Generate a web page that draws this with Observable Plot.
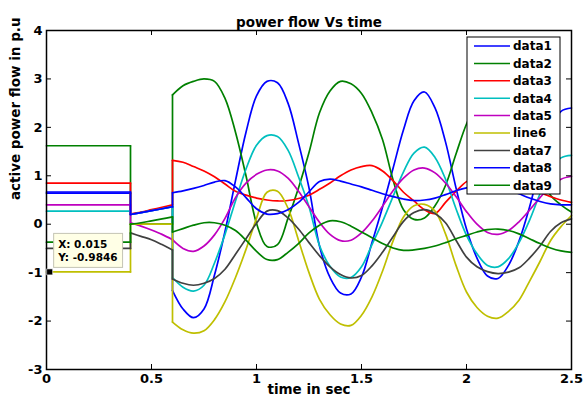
<!DOCTYPE html>
<html><head><meta charset="utf-8">
<script src="https://cdn.jsdelivr.net/npm/d3@7"></script>
<script src="https://cdn.jsdelivr.net/npm/@observablehq/plot@0.6"></script>
<style>
body{margin:0;background:#fff;}
#chart svg{display:block;}
</style></head><body><div id="chart"></div>
<script>
// ---- data ----
const titleText = "power flow Vs time";
const xLabel = "time in sec";
const yLabel = "active power flow in p.u";
const xTicks = [0, 0.5, 1, 1.5, 2, 2.5];
const yTicks = [-3, -2, -1, 0, 1, 2, 3, 4];

const seriesNames = ["data1","data2","data3","data4","data5","line6","data7","data8","data9"];
const seriesColors = ["#0000ff","#008000","#ff0000","#00bfbf","#bf00bf","#bfbf00","#404040","#0000ff","#008000"];

const preTime = [0, 0.4];
const faultTime = [0.4, 0.45, 0.5, 0.55, 0.6];
const postTime = [0.6,0.65,0.7,0.75,0.8,0.85,0.9,0.95,1.0,1.05,1.1,1.15,1.2,1.25,1.3,1.35,1.4,1.45,1.5,1.55,1.6,1.65,1.7,1.75,1.8,1.85,1.9,1.95,2.0,2.05,2.1,2.15,2.2,2.25,2.3,2.35,2.4,2.45,2.5];

const preValues = [0.64, 1.62, 0.85, 0.27, 0.4, -0.9846, -0.5, 0.665, -0.37];

const data1Fault = [0.2,0.24,0.28,0.32,0.36];
const data2Fault = [0,0,0,0,0];
const data3Fault = [0.21,0.25,0.3,0.35,0.4];
const data4Fault = [0.2,0.24,0.28,0.32,0.36];
const data5Fault = [0.03,-0.04,-0.12,-0.21,-0.32];
const line6Fault = [0,0,0,0,0];
const data7Fault = [-0.18,-0.25,-0.32,-0.42,-0.53];
const data8Fault = [0.2,0.24,0.28,0.32,0.36];
const data9Fault = [0,0.03,0.07,0.11,0.15];

const data1Post = [-1.37,-1.75,-1.93,-1.75,-1.05,-0.15,0.9,1.9,2.65,2.95,2.92,2.5,1.68,0.75,-0.45,-1.1,-1.42,-1.44,-1.09,-0.38,0.35,1.15,1.95,2.55,2.73,2.4,1.7,0.75,-0.1,-0.7,-1.07,-1.12,-0.85,-0.35,0.35,1.2,1.95,2.33,2.4];
const data2Post = [2.67,2.86,2.95,3.0,2.95,2.6,1.9,1.0,0.02,-0.46,-0.42,0.12,0.75,1.48,2.3,2.75,2.95,2.9,2.7,2.3,1.75,0.92,0.3,0.1,0.13,0.38,0.8,1.45,2.07,2.5,2.72,2.72,2.5,2.05,1.5,1.0,0.6,0.4,0.25];
const data3Post = [1.32,1.28,1.19,1.1,0.98,0.83,0.68,0.6,0.54,0.5,0.48,0.49,0.53,0.6,0.72,0.85,1.0,1.12,1.19,1.21,1.1,0.9,0.66,0.48,0.3,0.22,0.45,0.68,0.88,0.97,1.0,0.98,0.92,0.83,0.73,0.65,0.57,0.5,0.45];
const data4Post = [-1.1,-1.3,-1.38,-1.26,-0.8,-0.21,0.48,1.14,1.63,1.83,1.81,1.53,0.98,0.36,-0.44,-0.87,-1.09,-1.1,-0.88,-0.42,0.05,0.57,1.08,1.47,1.59,1.38,0.93,0.32,-0.23,-0.61,-0.85,-0.88,-0.71,-0.38,0.08,0.63,1.13,1.37,1.42];
const data5Post = [-0.32,-0.5,-0.56,-0.45,-0.22,0.12,0.55,0.85,1.03,1.12,1.1,0.95,0.68,0.36,0.04,-0.21,-0.34,-0.33,-0.18,0.065,0.37,0.69,0.95,1.12,1.16,1.06,0.85,0.57,0.26,0.0,-0.17,-0.21,-0.13,0.05,0.29,0.55,0.78,0.93,0.99];
const line6Post = [-2.02,-2.18,-2.25,-2.2,-1.97,-1.6,-1.1,-0.52,0.12,0.66,0.68,0.33,-0.33,-1.0,-1.55,-1.87,-2.06,-2.09,-1.88,-1.5,-0.97,-0.35,0.15,0.38,0.41,0.27,-0.2,-0.85,-1.4,-1.72,-1.9,-1.94,-1.8,-1.57,-1.18,-0.77,-0.34,-0.05,0.18];
const data7Post = [-1.13,-1.22,-1.26,-1.22,-1.12,-0.93,-0.62,-0.3,0.02,0.27,0.28,0.13,-0.1,-0.38,-0.65,-0.88,-1.04,-1.11,-1.06,-0.86,-0.58,-0.26,0.06,0.24,0.3,0.22,0.03,-0.33,-0.68,-0.88,-0.98,-1.02,-0.99,-0.9,-0.7,-0.45,-0.15,0.03,0.11];
const data8Post = [0.65,0.69,0.74,0.8,0.87,0.9,0.77,0.55,0.32,0.21,0.22,0.3,0.45,0.67,0.88,0.93,0.89,0.83,0.77,0.7,0.63,0.57,0.52,0.49,0.5,0.54,0.61,0.69,0.75,0.79,0.8,0.78,0.72,0.63,0.54,0.47,0.42,0.4,0.4];
const data9Post = [-0.16,-0.09,-0.02,0.03,0.03,-0.02,-0.13,-0.33,-0.56,-0.73,-0.73,-0.58,-0.4,-0.18,-0.02,0.07,0.05,-0.04,-0.16,-0.28,-0.4,-0.49,-0.54,-0.53,-0.5,-0.45,-0.38,-0.3,-0.23,-0.16,-0.11,-0.1,-0.13,-0.2,-0.3,-0.4,-0.49,-0.55,-0.58];

const faultValues = [data1Fault,data2Fault,data3Fault,data4Fault,data5Fault,line6Fault,data7Fault,data8Fault,data9Fault];
const postValues = [data1Post,data2Post,data3Post,data4Post,data5Post,line6Post,data7Post,data8Post,data9Post];

const tipX = 0.015, tipY = -0.9846;

// ---- layout ----
const W = 584, H = 401;
const M = {top: 30, right: 13, bottom: 32, left: 46};
const innerW = W - M.left - M.right;
const innerH = H - M.top - M.bottom;
const TICK = 5;
const FONT = "'DejaVu Sans', 'Liberation Sans', sans-serif";

function rowsOf(i) {
  const pre = preValues[i], fault = faultValues[i], post = postValues[i];
  const segs = [
    preTime.map(t => [t, pre]),
    [[preTime[1], pre], [faultTime[0], fault[0]]],
    faultTime.map((t, j) => [t, fault[j]]),
    [[faultTime[faultTime.length - 1], fault[fault.length - 1]], [postTime[0], post[0]]],
    postTime.map((t, j) => [t, post[j]])
  ];
  const rows = [];
  segs.forEach((seg, k) => seg.forEach(([t, v]) => rows.push({t, v, seg: k})));
  return rows;
}

const lineMarks = seriesNames.map((name, i) =>
  Plot.line(rowsOf(i), {x: "t", y: "v", z: "seg", stroke: seriesColors[i], strokeWidth: 1.7, curve: "catmull-rom"})
);

const plot = Plot.plot({
  width: W, height: H,
  marginTop: M.top, marginRight: M.right, marginBottom: M.bottom, marginLeft: M.left,
  x: {domain: [0, 2.5]},
  y: {domain: [-3, 4]},
  style: {fontFamily: FONT, fontSize: "13px", fontWeight: "bold", color: "black", background: "white"},
  marks: [
    ...lineMarks,
    Plot.frame({stroke: "black", strokeWidth: 1.5}),
    Plot.tickX(xTicks, {x: d => d, insetTop: innerH - TICK, stroke: "black"}),
    Plot.tickX(xTicks, {x: d => d, insetBottom: innerH - TICK, stroke: "black"}),
    Plot.tickY(yTicks, {y: d => d, insetRight: innerW - TICK, stroke: "black"}),
    Plot.tickY(yTicks, {y: d => d, insetLeft: innerW - TICK, stroke: "black"}),
    Plot.axisX({ticks: xTicks, tickSize: 0, tickPadding: 4, tickFormat: d => String(d), label: null, fontSize: 13}),
    Plot.axisY({ticks: yTicks, tickSize: 0, tickPadding: 4, tickFormat: d => String(d), label: null, fontSize: 13}),
    Plot.text([titleText], {text: d => d, frameAnchor: "top", dy: -13.3, fontSize: 13.5, fontWeight: "bold"}),
    Plot.text([xLabel], {text: d => d, frameAnchor: "bottom", dy: 24.5, fontSize: 13.5, fontWeight: "bold"}),
    Plot.text([yLabel], {text: d => d, frameAnchor: "left", rotate: -90, dx: -30.5, fontSize: 13.5, fontWeight: "bold"}),
    Plot.dot([[tipX, tipY]], {x: d => d[0], y: d => d[1], symbol: "square", r: 3.4, fill: "black", stroke: "white", strokeWidth: 0.6})
  ]
});

document.getElementById("chart").append(plot);

const svg = d3.select(plot);
const xs = plot.scale("x"), ys = plot.scale("y");

// ---- data tip ----
const px = xs.apply(tipX), py = ys.apply(tipY);
const tip = svg.append("g").attr("font-family", FONT).attr("font-weight", "bold").attr("font-size", 10.5).attr("text-anchor", "start");
const tipRect = tip.append("rect");
const t1 = tip.append("text").attr("x", px + 9).attr("y", py - 23.5).attr("fill", "black").text("X: " + tipX);
const t2 = tip.append("text").attr("x", px + 9).attr("y", py - 10.3).attr("fill", "black").text("Y: " + tipY);
const tw = Math.max(t1.node().getComputedTextLength(), t2.node().getComputedTextLength());
tipRect.attr("x", px + 4.5).attr("y", py - 38).attr("width", tw + 9.5).attr("height", 34)
  .attr("fill", "#ffffe6").attr("stroke", "#c4c4b4").attr("stroke-width", 1);

// ---- legend ----
const lgW = 93, lgH = 157, lgStep = 17.4;
const lgX = xs.range[1] - 11 - lgW, lgY = ys.range[1] + 7;
const lg = svg.append("g").attr("font-family", FONT).attr("font-weight", "bold").attr("font-size", 12).attr("text-anchor", "start");
lg.append("rect").attr("x", lgX).attr("y", lgY).attr("width", lgW).attr("height", lgH)
  .attr("fill", "white").attr("stroke", "black").attr("stroke-width", 1);
seriesNames.forEach((name, i) => {
  const yy = lgY + 9 + i * lgStep;
  lg.append("line").attr("x1", lgX + 7).attr("x2", lgX + 43).attr("y1", yy).attr("y2", yy)
    .attr("stroke", seriesColors[i]).attr("stroke-width", 1.5);
  lg.append("text").attr("x", lgX + 46).attr("y", yy + 4.3).attr("fill", "black").text(name);
});
</script>
</body></html>
